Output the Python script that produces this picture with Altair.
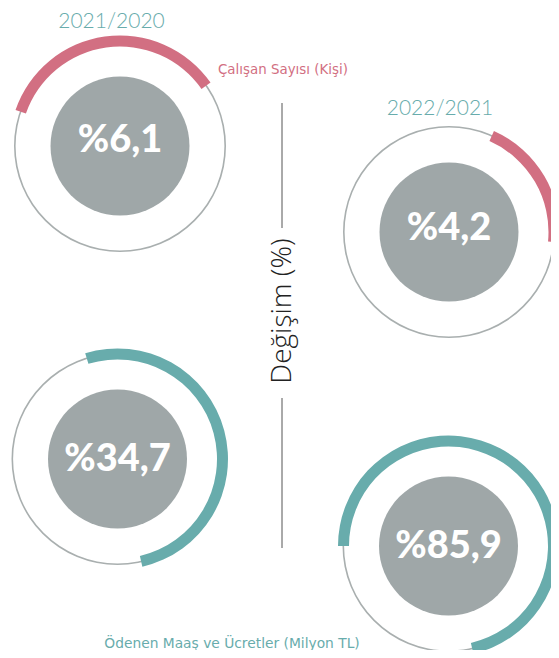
import math
import altair as alt
import pandas as pd

# ---- data ----
changes = ["%6,1", "%4,2", "%34,7", "%85,9"]
periods = ["2021/2020", "2022/2021"]
series_names = ["Çalışan Sayısı (Kişi)", "Ödenen Maaş ve Ücretler (Milyon TL)"]
series_of_gauge = [0, 0, 1, 1]
arc_start_deg = [-71, 24, -17, -90]
arc_end_deg = [55, 95.5, 167, 167]
axis_title = "Değişim  (%)"

# ---- layout (pixel positions in page coordinates) ----
cx = [120, 449, 117.5, 448.5]
cy = [146, 232, 459, 546]
value_y = [141, 229, 460, 547]
period_pos = [(111.5, 27.5), (440, 114.5)]
series_pos = [(218, 70), (232, 644)]
series_align = ["left", "center"]
series_size = [13.4, 13.8]

PINK = "#D26F82"
TEAL = "#68ACAC"
GRAY_FILL = "#9FA7A8"
GRAY_LINE = "#A9AFAF"

series_colors = [PINK, TEAL]

xs = alt.Scale(domain=[8, 551], nice=False, zero=False)
ys = alt.Scale(domain=[8, 650], nice=False, zero=False, reverse=True)

TWO_PI = 2 * math.pi

gauges = pd.DataFrame({
    "cx": cx,
    "cy": cy,
    "vy": value_y,
    "label": changes,
    "t0": [math.radians(a % 360) for a in arc_start_deg],
    "t1": [math.radians((a % 360) + (b - a)) for a, b in zip(arc_start_deg, arc_end_deg)],
    "color": [series_colors[s] for s in series_of_gauge],
    "full0": [0.0] * 4,
    "full1": [TWO_PI] * 4,
})

base = alt.Chart(gauges)
X = alt.X("cx:Q", scale=xs, axis=None)
Y = alt.Y("cy:Q", scale=ys, axis=None)

ring = base.mark_arc(radius=106, radius2=104.4, color=GRAY_LINE).encode(
    x=X, y=Y,
    theta=alt.Theta("full0:Q", scale=None, stack=None),
    theta2=alt.Theta2("full1:Q"),
)

band = base.mark_arc(radius=110.5, radius2=99.5).encode(
    x=X, y=Y,
    theta=alt.Theta("t0:Q", scale=None, stack=None),
    theta2=alt.Theta2("t1:Q"),
    color=alt.Color("color:N", scale=None),
)

disc = base.mark_arc(radius=69.5, color=GRAY_FILL).encode(
    x=X, y=Y,
    theta=alt.Theta("full0:Q", scale=None, stack=None),
    theta2=alt.Theta2("full1:Q"),
)

values_txt = base.mark_text(
    font="Lato", fontWeight=900, fontSize=38, color="white",
    align="center", baseline="middle",
).encode(
    x=X, y=alt.Y("vy:Q", scale=ys, axis=None), text="label:N",
)

period_df = pd.DataFrame({
    "x": [p[0] for p in period_pos],
    "y": [p[1] for p in period_pos],
    "t": periods,
})
period_txt = alt.Chart(period_df).mark_text(
    font="Lato", fontWeight=300, fontSize=21, color=TEAL,
    align="center", baseline="alphabetic",
).encode(
    x=alt.X("x:Q", scale=xs, axis=None),
    y=alt.Y("y:Q", scale=ys, axis=None),
    text="t:N",
)

series_layers = []
for i, name in enumerate(series_names):
    df = pd.DataFrame({"x": [series_pos[i][0]], "y": [series_pos[i][1]], "t": [name]})
    series_layers.append(
        alt.Chart(df).mark_text(
            font="DejaVu Sans", fontSize=series_size[i], color=series_colors[i],
            align=series_align[i], baseline="middle",
        ).encode(
            x=alt.X("x:Q", scale=xs, axis=None),
            y=alt.Y("y:Q", scale=ys, axis=None),
            text="t:N",
        )
    )

rule_df = pd.DataFrame({"x": [282, 282], "y": [103, 398], "y2": [228, 548]})
rules = alt.Chart(rule_df).mark_rule(color="#555555", strokeWidth=1).encode(
    x=alt.X("x:Q", scale=xs, axis=None),
    y=alt.Y("y:Q", scale=ys, axis=None),
    y2="y2:Q",
)

axis_df = pd.DataFrame({"x": [283], "y": [311], "t": [axis_title]})
axis_txt = alt.Chart(axis_df).mark_text(
    font="Open Sans", fontWeight=300, fontSize=28, color="#222222",
    align="center", baseline="middle", angle=270,
).encode(
    x=alt.X("x:Q", scale=xs, axis=None),
    y=alt.Y("y:Q", scale=ys, axis=None),
    text="t:N",
)

chart = alt.layer(
    ring, band, disc, values_txt, period_txt, *series_layers, rules, axis_txt
).properties(
    width=543, height=642, autosize="none", padding=0,
).configure_view(stroke=None)

chart.save("out.html", embed_options={"renderer": "svg", "actions": False})
